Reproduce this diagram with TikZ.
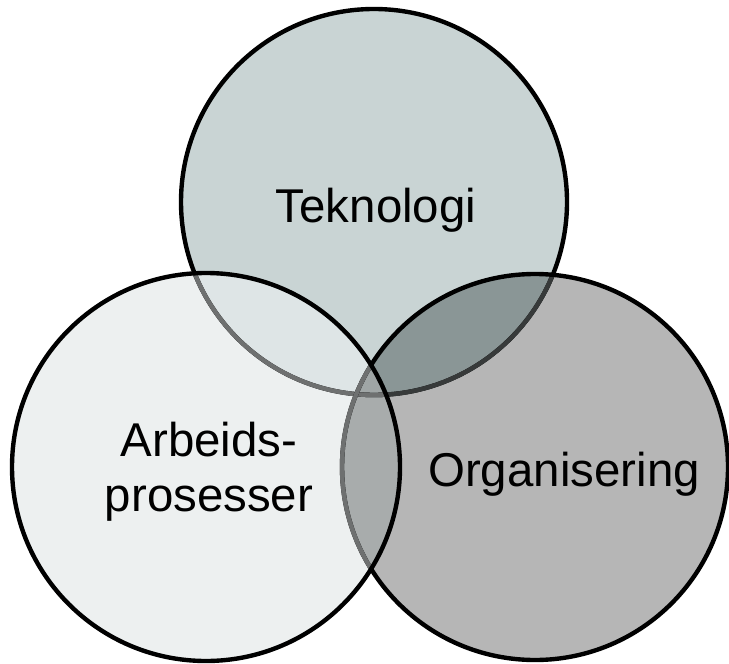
\documentclass[tikz,border=0pt]{standalone}
\usepackage{fontspec}
\setmainfont{Liberation Sans}
\definecolor{tekfill}{RGB}{201,212,212}
\definecolor{arbfill}{RGB}{237,240,240}
\definecolor{orgfill}{RGB}{182,182,182}
\definecolor{tekarb}{RGB}{222,229,230}
\definecolor{tekorg}{RGB}{138,150,150}
\definecolor{arborg}{RGB}{168,172,172}
\definecolor{allfill}{RGB}{160,166,166}
\definecolor{softedge}{RGB}{110,112,112}
\definecolor{darkedge}{RGB}{55,58,58}

\begin{document}
\begin{tikzpicture}[x=0.02cm,y=0.02cm,
    ring/.style={line width=2.5pt},
    venntext/.style={font=\fontsize{27}{31}\selectfont,inner sep=0pt,align=center}]
    \useasboundingbox (0,0) rectangle (729,663);

    \coordinate (tek) at (374,461);
    \coordinate (arb) at (206,196);
    \coordinate (org) at (535,196);

    % Filled circles
    \fill[tekfill] (tek) circle (193);
    \fill[orgfill] (org) circle (193);
    \fill[arbfill] (arb) circle (194);

    % Overlaps
    \begin{scope}
        \clip (tek) circle (193);
        \fill[tekarb] (arb) circle (194);
        \fill[tekorg] (org) circle (193);
    \end{scope}
    \begin{scope}
        \clip (arb) circle (194);
        \fill[arborg] (org) circle (193);
    \end{scope}
    \begin{scope}
        \clip (tek) circle (193);
        \clip (arb) circle (194);
        \fill[allfill] (org) circle (193);
    \end{scope}

    % Outlines, the covered parts lighter
    \draw[ring] (tek) circle (193);
    \begin{scope}
        \clip (org) circle (193);
        \draw[ring,darkedge] (tek) circle (193);
    \end{scope}
    \begin{scope}
        \clip (arb) circle (194);
        \draw[ring,softedge] (tek) circle (193);
    \end{scope}
    \draw[ring] (org) circle (193);
    \begin{scope}
        \clip (arb) circle (194);
        \draw[ring,softedge] (org) circle (193);
    \end{scope}
    \draw[ring] (arb) circle (194);

    % Labels
    \node[venntext,anchor=base] (teknologi) at (376,440) {Teknologi};
    \node[venntext,anchor=base] (arbeid) at (209,152) {Arbeids-\\prosesser};
    \node[venntext,anchor=base] (organisering) at (564,177) {Organisering};
\end{tikzpicture}
\end{document}
